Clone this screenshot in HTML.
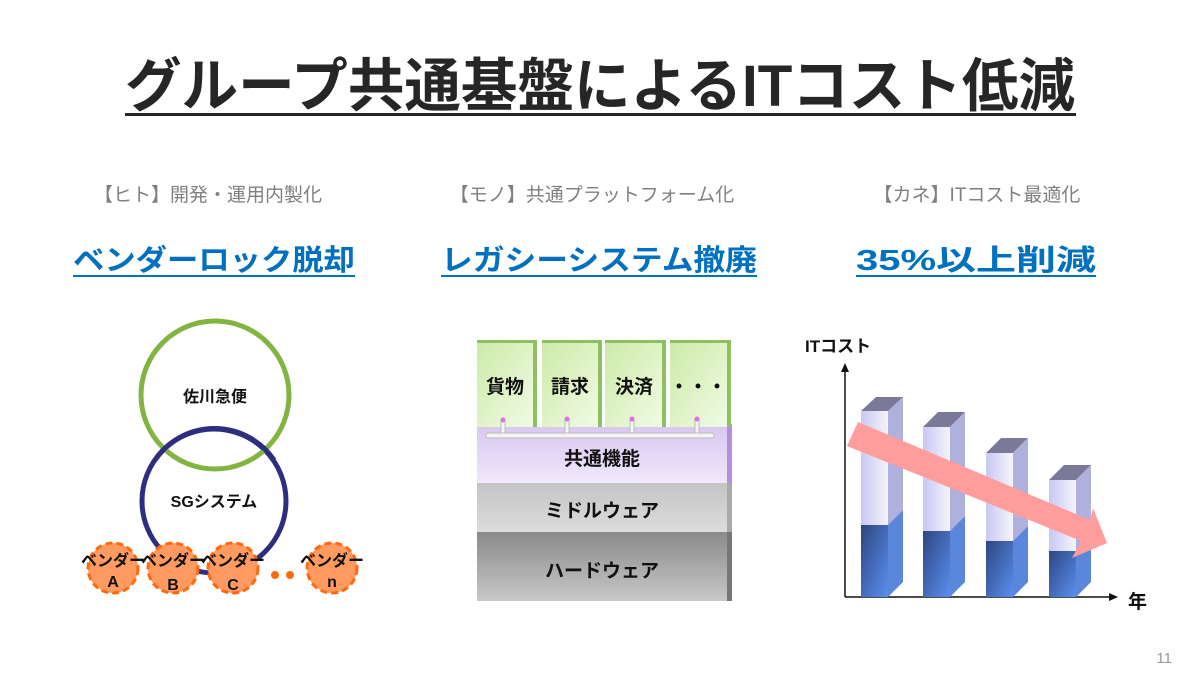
<!DOCTYPE html>
<html><head><meta charset="utf-8"><style>
body{margin:0;width:1202px;height:673px;background:#fff;position:relative;overflow:hidden;font-family:"Liberation Sans","Noto Sans CJK JP",sans-serif;}
</style></head><body>
<svg width="1202" height="673" style="position:absolute;left:0;top:0" font-family="Liberation Sans, Noto Sans CJK JP, sans-serif">
<defs>
<linearGradient id="gr" x1="0" y1="0" x2="1" y2="1"><stop offset="0" stop-color="#cdeaa8"/><stop offset="1" stop-color="#f0fbe4"/></linearGradient>
<linearGradient id="pu" x1="0" y1="0" x2="0" y2="1"><stop offset="0" stop-color="#d9c8f0"/><stop offset="1" stop-color="#f0e8fc"/></linearGradient>
<linearGradient id="mi" x1="0" y1="0" x2="0" y2="1"><stop offset="0" stop-color="#c4c4c4"/><stop offset="1" stop-color="#dcdcdc"/></linearGradient>
<linearGradient id="hw" x1="0" y1="0" x2="0" y2="1"><stop offset="0" stop-color="#8a8a8a"/><stop offset="1" stop-color="#c8c8c8"/></linearGradient>
<linearGradient id="bl" x1="0" y1="0" x2="1" y2="1"><stop offset="0" stop-color="#2d4680"/><stop offset="1" stop-color="#5a8ef0"/></linearGradient>
<linearGradient id="wh" x1="0" y1="0" x2="1" y2="0"><stop offset="0" stop-color="#c8c8f4"/><stop offset="1" stop-color="#f4f4fc"/></linearGradient>
</defs>
<text x="600" y="106" text-anchor="middle" font-size="58" font-weight="bold" fill="#262626" textLength="950" lengthAdjust="spacingAndGlyphs">グループ共通基盤によるITコスト低減</text>
<rect x="125" y="113" width="951" height="3" fill="#262626"/>
<text x="208" y="201" text-anchor="middle" font-size="19" fill="#808080">【ヒト】開発・運用内製化</text>
<text x="592" y="201" text-anchor="middle" font-size="19" fill="#808080">【モノ】共通プラットフォーム化</text>
<text x="977" y="201" text-anchor="middle" font-size="19" fill="#808080">【カネ】ITコスト最適化</text>
<g font-size="29" font-weight="bold" fill="#0070c0">
<text x="214" y="270" text-anchor="middle" textLength="282" lengthAdjust="spacingAndGlyphs">ベンダーロック脱却</text>
<text x="599" y="270" text-anchor="middle" textLength="316" lengthAdjust="spacingAndGlyphs">レガシーシステム撤廃</text>
<text x="976" y="270" text-anchor="middle" textLength="240" lengthAdjust="spacingAndGlyphs">35%以上削減</text>
</g>
<rect x="73" y="275" width="282" height="2" fill="#0070c0"/>
<rect x="441" y="275" width="316" height="2" fill="#0070c0"/>
<rect x="856" y="275" width="240" height="2" fill="#0070c0"/>
<circle cx="214" cy="501" r="72" fill="none" stroke="#2e2e80" stroke-width="5"/>
<circle cx="215" cy="395" r="74" fill="none" stroke="#82b441" stroke-width="5"/>
<path d="M 155 460 A 72 72 0 0 1 274 460" fill="none" stroke="#2e2e80" stroke-width="5"/>
<text x="215" y="402" text-anchor="middle" font-size="16" font-weight="bold" fill="#111">佐川急便</text>
<text x="214" y="507" text-anchor="middle" font-size="16" font-weight="bold" fill="#111">SGシステム</text>
<g fill="#ff9a60" stroke="#ff6a10" stroke-width="3" stroke-dasharray="7 4">
<circle cx="113" cy="568" r="25"/><circle cx="173" cy="568" r="25"/><circle cx="233" cy="568" r="25"/><circle cx="332" cy="568" r="25"/>
</g>
<circle cx="275" cy="575" r="4" fill="#ff6a10"/><circle cx="290" cy="575" r="4" fill="#ff6a10"/>
<g font-size="16" font-weight="bold" fill="#111" text-anchor="middle">
<text x="113" y="566">ベンダー</text><text x="113" y="587">A</text>
<text x="173" y="566">ベンダー</text><text x="173" y="590">B</text>
<text x="233" y="566">ベンダー</text><text x="233" y="590">C</text>
<text x="332" y="566">ベンダー</text><text x="332" y="587">n</text>
</g>
<rect x="477" y="532" width="250" height="69" fill="url(#hw)"/>
<rect x="727" y="530" width="5" height="71" fill="#777"/>
<rect x="477" y="483" width="250" height="49" fill="url(#mi)"/>
<rect x="727" y="481" width="5" height="51" fill="#aaa"/>
<rect x="477" y="427" width="250" height="56" fill="url(#pu)"/>
<rect x="727" y="424" width="5" height="59" fill="#b48ce0"/>
<g>
<rect x="477" y="343" width="56" height="84" fill="url(#gr)"/><rect x="533" y="340" width="4" height="87" fill="#8cc060"/><rect x="477" y="340" width="56" height="3" fill="#8cc060"/>
<rect x="542" y="343" width="56" height="84" fill="url(#gr)"/><rect x="598" y="340" width="4" height="87" fill="#8cc060"/><rect x="542" y="340" width="56" height="3" fill="#8cc060"/>
<rect x="605" y="343" width="57" height="84" fill="url(#gr)"/><rect x="662" y="340" width="4" height="87" fill="#8cc060"/><rect x="605" y="340" width="57" height="3" fill="#8cc060"/>
<rect x="670" y="343" width="57" height="84" fill="url(#gr)"/><rect x="727" y="340" width="4" height="87" fill="#8cc060"/><rect x="670" y="340" width="57" height="3" fill="#8cc060"/>
</g>
<g font-size="19" font-weight="bold" fill="#111" text-anchor="middle">
<text x="505" y="393">貨物</text><text x="570" y="393">請求</text><text x="634" y="393">決済</text><text x="698" y="393">・・・</text>
<text x="602" y="465">共通機能</text><text x="602" y="517">ミドルウェア</text><text x="602" y="577">ハードウェア</text>
</g>
<rect x="486" y="433" width="228" height="5" rx="2" fill="#f4f4f4" stroke="#bbb" stroke-width="1"/>
<g fill="#f4f4f4" stroke="#bbb" stroke-width="1">
<rect x="501" y="421" width="4" height="12"/><rect x="565" y="421" width="4" height="12"/><rect x="630" y="421" width="4" height="12"/><rect x="695" y="421" width="4" height="12"/>
</g>
<g fill="#e070e0"><circle cx="503" cy="420" r="2.5"/><circle cx="567" cy="419" r="2.5"/><circle cx="632" cy="419" r="2.5"/><circle cx="697" cy="419" r="2.5"/></g>
<text x="805" y="352" font-size="17" font-weight="bold" fill="#111">ITコスト</text>
<text x="1128" y="608" font-size="19" font-weight="bold" fill="#111">年</text>
<line x1="845" y1="370" x2="845" y2="597" stroke="#111" stroke-width="1.5"/>
<polygon points="845,363 841,372 849,372" fill="#111"/>
<line x1="845" y1="597" x2="1112" y2="597" stroke="#111" stroke-width="1.5"/>
<polygon points="1118,597 1109,593 1109,601" fill="#111"/>
<polygon points="861,411 876,397 903,397 888,411" fill="#7a7a98"/>
<polygon points="888,411 903,397 903,510 888,525" fill="#b0b0dc"/>
<rect x="861" y="411" width="27" height="114" fill="url(#wh)"/>
<polygon points="888,525 903,510 903,582 888,597" fill="#5a86dc"/>
<rect x="861" y="525" width="27" height="72" fill="url(#bl)"/>
<polygon points="923,427 938,412 965,412 950,427" fill="#7a7a98"/>
<polygon points="950,427 965,412 965,516 950,531" fill="#b0b0dc"/>
<rect x="923" y="427" width="27" height="104" fill="url(#wh)"/>
<polygon points="950,531 965,516 965,582 950,597" fill="#5a86dc"/>
<rect x="923" y="531" width="27" height="66" fill="url(#bl)"/>
<polygon points="986,453 1001,438 1028,438 1013,453" fill="#7a7a98"/>
<polygon points="1013,453 1028,438 1028,526 1013,541" fill="#b0b0dc"/>
<rect x="986" y="453" width="27" height="88" fill="url(#wh)"/>
<polygon points="1013,541 1028,526 1028,582 1013,597" fill="#5a86dc"/>
<rect x="986" y="541" width="27" height="56" fill="url(#bl)"/>
<polygon points="1049,480 1064,465 1091,465 1076,480" fill="#7a7a98"/>
<polygon points="1076,480 1091,465 1091,536 1076,551" fill="#b0b0dc"/>
<rect x="1049" y="480" width="27" height="71" fill="url(#wh)"/>
<polygon points="1076,551 1091,536 1091,582 1076,597" fill="#5a86dc"/>
<rect x="1049" y="551" width="27" height="46" fill="url(#bl)"/>
<polygon points="858,422 1090,520 1093,508 1107,543 1072,558 1081,541 847,446" fill="#ff9c9c"/>
<text x="1172" y="663" text-anchor="end" font-size="15" fill="#999">11</text>
</svg>
</body></html>
